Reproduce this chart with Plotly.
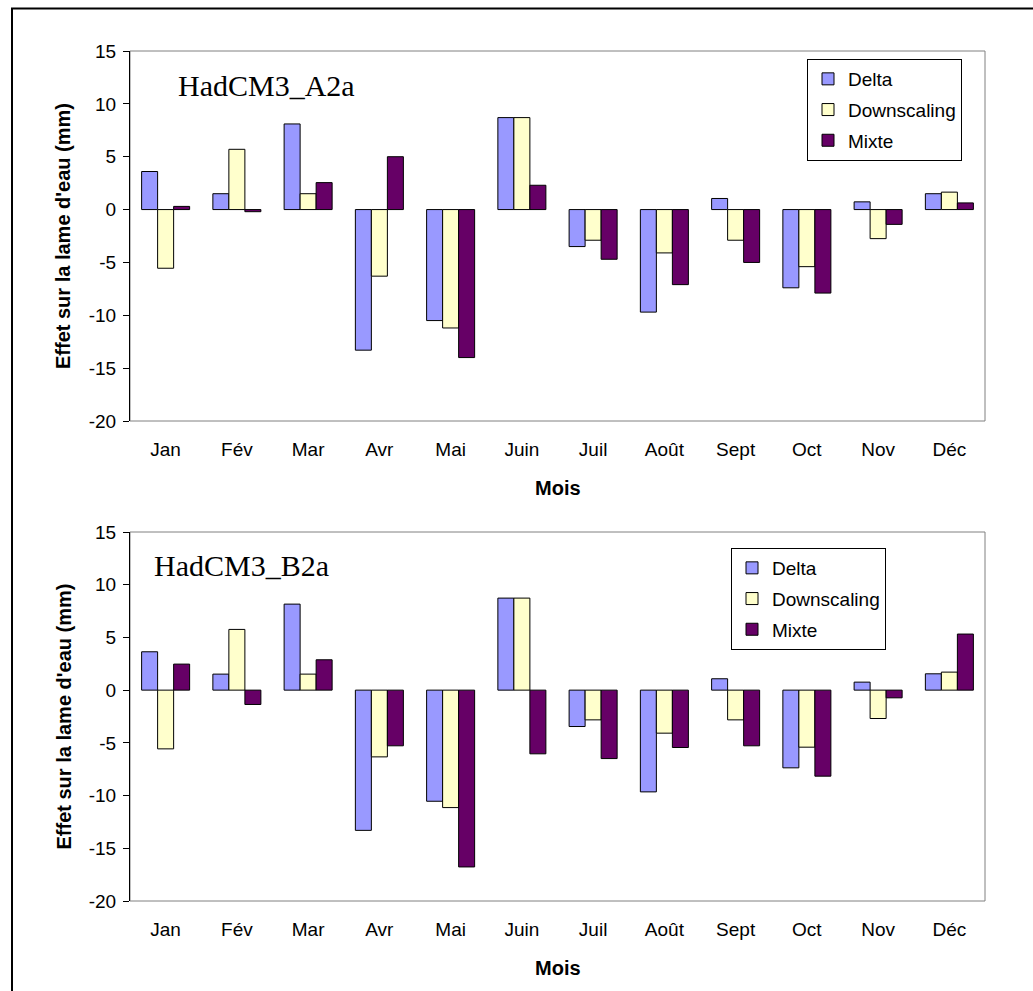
import plotly.graph_objects as go

# ---------------- data ----------------
months = ["Jan", "Fév", "Mar", "Avr", "Mai", "Juin", "Juil", "Août", "Sept", "Oct", "Nov", "Déc"]
series_names = ["Delta", "Downscaling", "Mixte"]

a2a_delta = [3.6, 1.5, 8.1, -13.3, -10.5, 8.7, -3.5, -9.7, 1.05, -7.4, 0.73, 1.5]
a2a_downscaling = [-5.55, 5.7, 1.5, -6.3, -11.2, 8.7, -2.9, -4.1, -2.9, -5.4, -2.75, 1.65]
a2a_mixte = [0.3, -0.2, 2.55, 5.0, -14.0, 2.3, -4.7, -7.1, -5.0, -7.9, -1.4, 0.63]

b2a_delta = [3.64, 1.52, 8.16, -13.3, -10.54, 8.73, -3.45, -9.65, 1.08, -7.37, 0.76, 1.55]
b2a_downscaling = [-5.57, 5.76, 1.52, -6.33, -11.14, 8.73, -2.82, -4.08, -2.82, -5.41, -2.69, 1.71]
b2a_mixte = [2.47, -1.36, 2.88, -5.28, -16.77, -6.04, -6.49, -5.44, -5.28, -8.16, -0.73, 5.32]

panel_titles = ["HadCM3_A2a", "HadCM3_B2a"]
y_title = "Effet sur la lame d'eau (mm)"
x_title = "Mois"
y_ticks = [-20, -15, -10, -5, 0, 5, 10, 15]
y_ticktext = ["-20", "-15", "-10", "-5", "0", "5", "10", "15"]

# ---------------- styling ----------------
W, H = 1033, 991
colors = ["#9999FF", "#FFFFCC", "#660066"]
SANS = "Liberation Sans, Arial, sans-serif"
SERIF = "Liberation Serif, Times New Roman, serif"
TICK_SIZE = 19
TITLE_SIZE = 20

def px(x):
    return x / W

def py(y):
    return 1 - y / H

# plot areas in pixels (left, right, top, bottom)
areas = [(130, 985, 51, 421), (130, 985, 532, 901)]
legend_pos = [(807, 59), (731, 548)]
label_pos = [(176, 85.5), (152, 565)]

ymin, ymax = y_ticks[0], y_ticks[-1]

fig = go.Figure()
panels = [
    [a2a_delta, a2a_downscaling, a2a_mixte],
    [b2a_delta, b2a_downscaling, b2a_mixte],
]

layout = dict(
    width=W, height=H,
    margin=dict(l=0, r=0, t=0, b=0),
    paper_bgcolor="white", plot_bgcolor="white",
    barmode="group", bargap=0.326, bargroupgap=0,
    showlegend=True,
    font=dict(family=SANS, color="black", size=TICK_SIZE),
)
shapes = []
annotations = []

for p, values in enumerate(panels):
    xs = "" if p == 0 else str(p + 1)
    xa_name = "xaxis" + xs
    ya_name = "yaxis" + xs
    leg = "legend" if p == 0 else "legend2"
    for s, (name, vals) in enumerate(zip(series_names, values)):
        fig.add_trace(go.Bar(
            x=months, y=vals, name=name,
            marker=dict(color=colors[s], line=dict(color="black", width=1)),
            xaxis="x" + xs, yaxis="y" + xs,
            legend=leg, legendgroup=f"{leg}_{name}",
        ))
    l, r, t, b = areas[p]
    xdom = [px(l), px(r)]
    ydom = [py(b), py(t)]
    layout[xa_name] = dict(
        domain=xdom, anchor="y" + xs, type="category",
        categoryorder="array", categoryarray=months,
        range=[-0.5, len(months) - 0.5],
        showgrid=False, zeroline=False, showline=False, ticks="",
        tickfont=dict(size=TICK_SIZE, family=SANS, color="black"),
        ticklabelstandoff=15, automargin=False, fixedrange=True,
    )
    layout[ya_name] = dict(
        domain=ydom, anchor="x" + xs, range=[ymin, ymax],
        tickvals=y_ticks, ticktext=y_ticktext,
        ticks="outside", ticklen=6, tickcolor="black", tickwidth=1,
        showline=True, linecolor="black", linewidth=1,
        showgrid=False, zeroline=False,
        tickfont=dict(size=TICK_SIZE, family=SANS, color="black"),
        ticklabelstandoff=3, automargin=False, fixedrange=True,
    )
    # zero axis with category-boundary ticks
    zero_pos = ydom[0] + (0 - ymin) / (ymax - ymin) * (ydom[1] - ydom[0])
    ov = "xaxis" + str(p + 3)
    layout[ov] = dict(
        overlaying="x" + xs, anchor="free", position=zero_pos, domain=xdom,
        range=[-0.5, len(months) - 0.5],
        tickvals=[i - 0.5 for i in range(len(months) + 1)],
        ticks="outside", ticklen=5, tickcolor="black", tickwidth=1,
        showline=True, linecolor="black", linewidth=1,
        showticklabels=False, showgrid=False, zeroline=False,
        automargin=False, fixedrange=True,
    )
    # plot-area border
    shapes.append(dict(
        type="rect", xref="x" + xs + " domain", yref="y" + xs + " domain",
        x0=0, x1=1, y0=0, y1=1, line=dict(color="#808080", width=1), layer="below",
    ))
    # legend
    lx, ly = legend_pos[p]
    layout[leg] = dict(
        x=px(lx), y=py(ly), xanchor="left", yanchor="top",
        bgcolor="white", bordercolor="black", borderwidth=1,
        font=dict(size=TICK_SIZE, family=SANS, color="black"),
        traceorder="grouped", tracegroupgap=3,
    )
    # panel label
    tx, ty = label_pos[p]
    annotations.append(dict(
        text=panel_titles[p], x=px(tx), y=py(ty), xref="paper", yref="paper",
        xanchor="left", yanchor="middle", showarrow=False,
        font=dict(family=SERIF, size=30, color="black"),
    ))
    # axis titles
    annotations.append(dict(
        text="<b>" + y_title + "</b>", x=px(63), y=py((t + b) / 2), xref="paper", yref="paper",
        xanchor="center", yanchor="middle", showarrow=False, textangle=-90,
        font=dict(family=SANS, size=TITLE_SIZE, color="black"),
    ))
    annotations.append(dict(
        text="<b>" + x_title + "</b>", x=px((l + r) / 2), y=py(b + 67), xref="paper", yref="paper",
        xanchor="center", yanchor="middle", showarrow=False,
        font=dict(family=SANS, size=TITLE_SIZE, color="black"),
    ))

# outer frame (open on right/bottom as in the original crop)
shapes.append(dict(
    type="rect", xref="paper", yref="paper",
    x0=px(12), x1=1.05, y0=-0.05, y1=py(8.5),
    line=dict(color="black", width=2), layer="above",
))

layout["shapes"] = shapes
layout["annotations"] = annotations
fig.update_layout(**layout)

fig.write_html(
    "out.html",
    config={"displayModeBar": False},
    post_script="document.body.style.margin='0px';",
)
